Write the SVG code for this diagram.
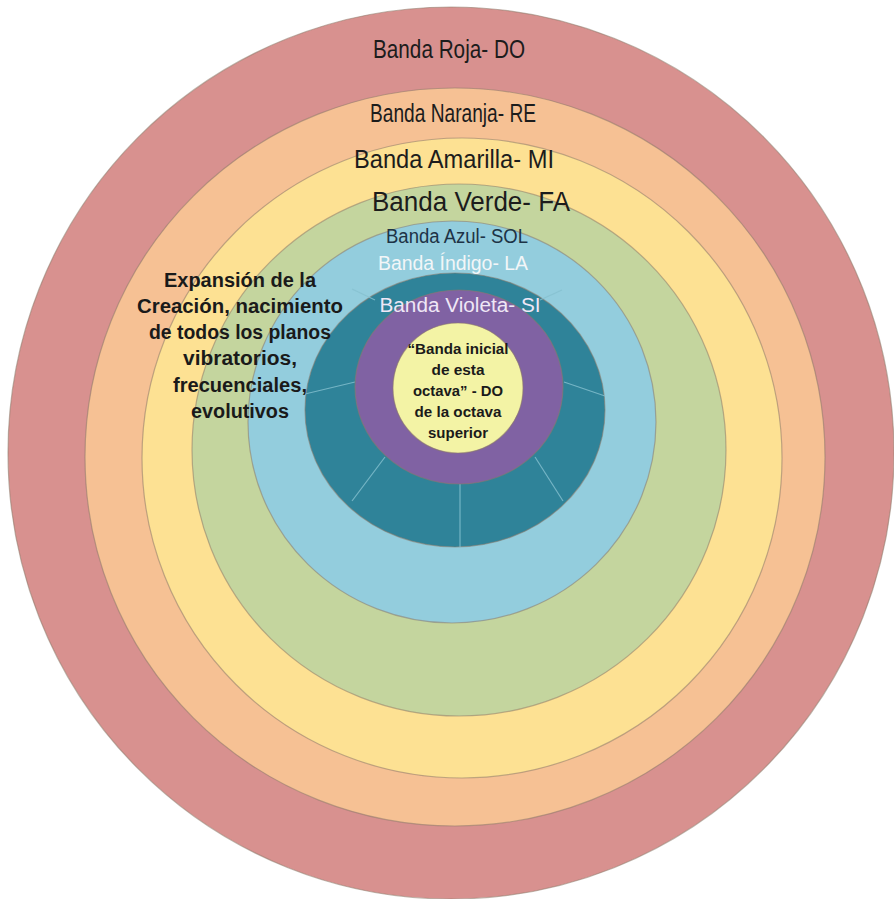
<svg xmlns="http://www.w3.org/2000/svg" width="894" height="899" viewBox="0 0 894 899">
<style>
.band{stroke:#8c7a6a;stroke-opacity:0.55;stroke-width:1.2}
.lbl{font-family:"Liberation Sans",Arial,sans-serif;text-anchor:middle;fill:#1c1c1c}
.bold{font-family:"Liberation Sans",Arial,sans-serif;font-weight:bold;text-anchor:middle;fill:#1a1a1a}
.sep{stroke:#86c0d0;stroke-width:1.2;stroke-opacity:0.8}
</style>
<rect width="894" height="899" fill="#ffffff"/>
<g id="banda-roja"><ellipse class="band" cx="451" cy="453" rx="443" ry="446" fill="#d8918f"/></g>
<g id="banda-naranja"><ellipse class="band" cx="455" cy="457" rx="370" ry="369" fill="#f6c194"/></g>
<g id="banda-amarilla"><ellipse class="band" cx="462" cy="458" rx="320" ry="320" fill="#fde193"/></g>
<g id="banda-verde"><ellipse class="band" cx="459" cy="450" rx="267" ry="266" fill="#c4d59e"/></g>
<g id="banda-azul"><ellipse class="band" cx="452" cy="422" rx="204" ry="201" fill="#93cddd"/></g>
<g id="banda-indigo"><ellipse class="band" cx="455" cy="410" rx="150" ry="137" fill="#2f8399"/></g>
<g id="connectors">
<line class="sep" x1="352" y1="289" x2="375" y2="300"/>
<line class="sep" x1="562" y1="290" x2="540" y2="300"/>
<line class="sep" x1="305" y1="394" x2="355" y2="382"/>
<line class="sep" x1="605" y1="396" x2="564" y2="382"/>
<line class="sep" x1="352" y1="501" x2="385" y2="457"/>
<line class="sep" x1="563" y1="501" x2="535" y2="457"/>
<line class="sep" x1="460" y1="547" x2="460" y2="484"/>
</g>
<g id="banda-violeta"><ellipse class="band" cx="459" cy="387" rx="104" ry="97" fill="#8062a3"/></g>
<g id="banda-inicial"><ellipse class="band" cx="458" cy="388" rx="65" ry="65" fill="#f3f3a5"/></g>
<g id="labels">
<text class="lbl" x="449" y="58" font-size="26" textLength="152" lengthAdjust="spacingAndGlyphs">Banda Roja- DO</text>
<text class="lbl" x="453" y="122" font-size="25" textLength="166" lengthAdjust="spacingAndGlyphs">Banda Naranja- RE</text>
<text class="lbl" x="454" y="168" font-size="26" textLength="200" lengthAdjust="spacingAndGlyphs">Banda Amarilla- MI</text>
<text class="lbl" x="471" y="211" font-size="27" textLength="198" lengthAdjust="spacingAndGlyphs">Banda Verde- FA</text>
<text class="lbl" x="457" y="243" font-size="20" textLength="142" lengthAdjust="spacingAndGlyphs" style="fill:#1d3346">Banda Azul- SOL</text>
<text class="lbl" x="453" y="270" font-size="20" textLength="150" lengthAdjust="spacingAndGlyphs" style="fill:#f2f6f8">Banda Índigo- LA</text>
<text class="lbl" x="460" y="312" font-size="20" textLength="161" lengthAdjust="spacingAndGlyphs" style="fill:#efe7f6">Banda Violeta- SI</text>
</g>
<g id="texto-central" font-size="15">
<text class="bold" x="458" y="354" textLength="101" lengthAdjust="spacingAndGlyphs">“Banda inicial</text>
<text class="bold" x="458" y="375" textLength="53" lengthAdjust="spacingAndGlyphs">de esta</text>
<text class="bold" x="458" y="396" textLength="90" lengthAdjust="spacingAndGlyphs">octava” - DO</text>
<text class="bold" x="458" y="417" textLength="87" lengthAdjust="spacingAndGlyphs">de la octava</text>
<text class="bold" x="458" y="438" textLength="60" lengthAdjust="spacingAndGlyphs">superior</text>
</g>
<g id="texto-expansion" font-size="19.5">
<text class="bold" x="240" y="287" textLength="152" lengthAdjust="spacingAndGlyphs">Expansión de la</text>
<text class="bold" x="240" y="313" textLength="206" lengthAdjust="spacingAndGlyphs">Creación, nacimiento</text>
<text class="bold" x="240" y="339" textLength="182" lengthAdjust="spacingAndGlyphs">de todos los planos</text>
<text class="bold" x="240" y="365" textLength="114" lengthAdjust="spacingAndGlyphs">vibratorios,</text>
<text class="bold" x="240" y="392" textLength="134" lengthAdjust="spacingAndGlyphs">frecuenciales,</text>
<text class="bold" x="240" y="418" textLength="98" lengthAdjust="spacingAndGlyphs">evolutivos</text>
</g>
</svg>
